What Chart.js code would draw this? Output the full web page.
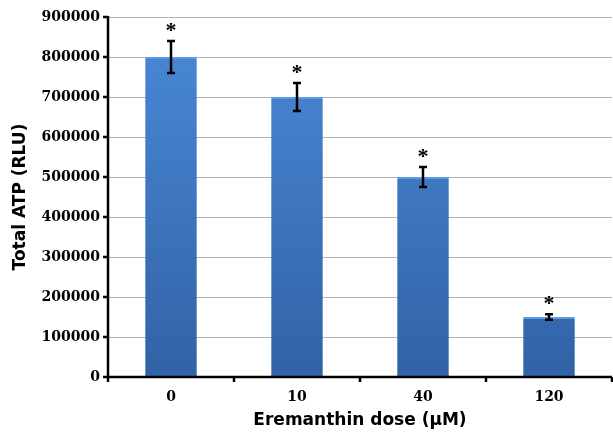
<!DOCTYPE html>
<html>
<head>
<meta charset="utf-8">
<script src="https://cdn.jsdelivr.net/npm/chart.js@4"></script>
<style>
  html, body { margin: 0; padding: 0; background: #fff; }
  #wrap { width: 613px; height: 439px; }
</style>
</head>
<body>
<div id="wrap"><canvas id="atpChart" width="613" height="439"></canvas></div>
<script>
// data
const doses = ["0", "10", "40", "120"];
const atpMeans = [800000, 700000, 500000, 150000];
const atpErrors = [40000, 35000, 25000, 7000];
const significant = [true, true, true, true];
const yTicks = [0, 100000, 200000, 300000, 400000, 500000, 600000, 700000, 800000, 900000];

// error bars + asterisks, positioned via the chart's scales
const errorBarPlugin = {
  id: "errorBars",
  afterDatasetsDraw(chart) {
    const ctx = chart.ctx;
    const x = chart.scales.x, y = chart.scales.y;
    ctx.save();
    ctx.strokeStyle = "#000";
    ctx.lineWidth = 2.5;
    atpMeans.forEach((v, i) => {
      const px = x.getPixelForValue(i);
      const top = y.getPixelForValue(v + atpErrors[i]);
      const bot = y.getPixelForValue(v - atpErrors[i]);
      ctx.beginPath();
      ctx.moveTo(px, top); ctx.lineTo(px, bot);
      ctx.moveTo(px - 4, top); ctx.lineTo(px + 4, top);
      ctx.moveTo(px - 4, bot); ctx.lineTo(px + 4, bot);
      ctx.stroke();
      if (significant[i]) {
        ctx.fillStyle = "#000";
        ctx.font = "bold 22px 'Liberation Serif'";
        ctx.textAlign = "center";
        ctx.textBaseline = "alphabetic";
        ctx.fillText("*", px, top - 4);
      }
    });
    ctx.restore();
  }
};

// thick black axis lines with outward tick marks, like the original
const axisPlugin = {
  id: "axisLines",
  afterDraw(chart) {
    const ctx = chart.ctx;
    const a = chart.chartArea;
    const x = chart.scales.x, y = chart.scales.y;
    ctx.save();
    ctx.strokeStyle = "#000";
    ctx.lineWidth = 2.5;
    ctx.beginPath();
    ctx.moveTo(a.left, a.top - 1); ctx.lineTo(a.left, a.bottom);
    ctx.lineTo(a.right, a.bottom);
    yTicks.forEach(t => {
      const py = y.getPixelForValue(t);
      ctx.moveTo(a.left - 5, py); ctx.lineTo(a.left, py);
    });
    for (let i = 0; i <= doses.length; i++) {
      const px = x.getPixelForValue(i - 0.5);
      ctx.moveTo(px, a.bottom); ctx.lineTo(px, a.bottom + 5);
    }
    ctx.stroke();
    ctx.restore();
  }
};

function barFill(context) {
  const chart = context.chart;
  const a = chart.chartArea;
  if (!a) return "#3f7ccc";
  const g = chart.ctx.createLinearGradient(0, a.top, 0, a.bottom);
  g.addColorStop(0, "#4a8ad8");
  g.addColorStop(1, "#3262a6");
  return g;
}

const ctx = document.getElementById("atpChart").getContext("2d");
new Chart(ctx, {
  type: "bar",
  data: {
    labels: doses,
    datasets: [{
      data: atpMeans,
      backgroundColor: barFill,
      borderColor: "#5b9be3",
      borderWidth: { top: 2, left: 0, right: 0, bottom: 0 },
      borderSkipped: false,
      categoryPercentage: 1,
      barPercentage: 0.41
    }]
  },
  options: {
    responsive: false,
    animation: false,
    layout: { padding: { top: 17, right: 1, left: 0, bottom: 0 } },
    plugins: { legend: { display: false }, tooltip: { enabled: false } },
    scales: {
      x: {
        afterFit(scale) { scale.height = 62; },
        grid: { display: false, drawTicks: false },
        border: { display: false },
        ticks: { color: "#000", padding: 12, font: { family: "'DejaVu Serif'", weight: "bold", size: 14 } },
        title: {
          display: true,
          text: "Eremanthin dose (\u00b5M)",
          color: "#000",
          padding: { top: 0, bottom: 8 },
          font: { family: "'DejaVu Sans'", weight: "bold", size: 17 }
        }
      },
      y: {
        min: 0,
        max: 900000,
        afterFit(scale) { scale.width = 108; },
        afterBuildTicks(scale) { scale.ticks = yTicks.map(v => ({ value: v })); },
        grid: { color: "#b4b4b4", lineWidth: 1, drawTicks: false },
        border: { display: false },
        ticks: {
          color: "#000",
          padding: 8,
          callback: v => String(v),
          font: { family: "'DejaVu Serif'", weight: "bold", size: 14 }
        },
        title: {
          display: true,
          text: "Total ATP (RLU)",
          color: "#000",
          padding: { top: 10, bottom: 0 },
          font: { family: "'DejaVu Sans'", weight: "bold", size: 17 }
        }
      }
    }
  },
  plugins: [errorBarPlugin, axisPlugin]
});
</script>
</body>
</html>
